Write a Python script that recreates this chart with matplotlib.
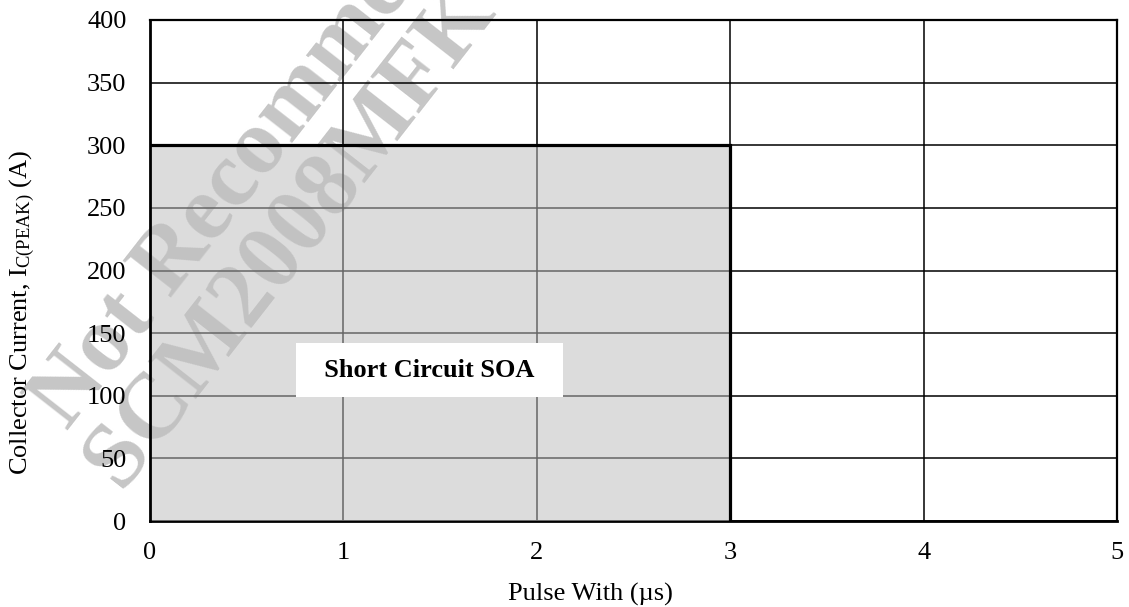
import matplotlib
matplotlib.use("Agg")
import matplotlib.pyplot as plt

# ---- data ----
soa_pulse_width = [0, 3, 3]          # µs
soa_current = [300, 300, 0]          # A
x_ticks = [0, 1, 2, 3, 4, 5]
y_ticks = [0, 50, 100, 150, 200, 250, 300, 350, 400]
region_label = "Short Circuit SOA"
label_pos = (1.443, 120.5)
watermarks = ["Not Recommended", "SCM2008MFK"]

plt.rcParams['font.family'] = ['Liberation Serif', 'DejaVu Serif']
plt.rcParams['mathtext.fontset'] = 'custom'
plt.rcParams['mathtext.rm'] = 'Liberation Serif'
plt.rcParams['mathtext.it'] = 'Liberation Serif:italic'
plt.rcParams['mathtext.bf'] = 'Liberation Serif:bold'

W, H = 1129, 607
fig = plt.figure(figsize=(W / 100, H / 100), dpi=100)
ax = fig.add_axes([150 / W, 1 - 521 / H, (1117 - 150) / W, (521 - 20) / H])

ax.set_xlim(x_ticks[0], x_ticks[-1])
ax.set_ylim(y_ticks[0], y_ticks[-1])
ax.set_xticks(x_ticks)
ax.set_yticks(y_ticks)
ax.tick_params(axis='both', length=0, labelsize=19, colors='black')
ax.tick_params(axis='y', pad=17)
ax.tick_params(axis='x', pad=15)

ax.set_axisbelow('line')
ax.grid(True, color='black', linewidth=1.1)

# watermark (behind grid)
wm_pos = [(282, 119), (291, 236)]
for txt, (px, py) in zip(watermarks, wm_pos):
    ax.text(px / W, 1 - py / H, txt, transform=fig.transFigure,
            fontsize=67, fontweight='bold', color='#c6c6c6',
            rotation=52, rotation_mode='anchor', ha='center', va='center',
            zorder=0.6, clip_on=False)

# shaded SOA region
ax.fill_between(soa_pulse_width, soa_current, 0, color=(0.75, 0.75, 0.75),
                alpha=0.533, linewidth=0, zorder=2.6)
ax.plot(soa_pulse_width, soa_current, color='black', linewidth=2.3,
        solid_joinstyle='miter', zorder=3)

for s in ax.spines.values():
    s.set_color('black')
    s.set_linewidth(1.6)
ax.spines['left'].set_linewidth(2.0)
ax.spines['bottom'].set_linewidth(2.0)
ax.spines['left'].set_zorder(3)

ax.text(label_pos[0], label_pos[1], "  " + region_label + "  ", fontsize=19,
        fontweight='bold', ha='center', va='center', zorder=4,
        bbox=dict(boxstyle='square,pad=0.6', facecolor='white', edgecolor='none'))

ax.set_xlabel("Pulse With (µs)", fontsize=19)
ax.xaxis.set_label_coords((590 - 150) / 967, (521 - 583) / 501)
ax.set_ylabel(r"Collector Current, I$_{\mathrm{C(PEAK)}}$ (A)", fontsize=19)
ax.yaxis.set_label_coords((37 - 150) / 967, (521 - 313) / 501)

fig.savefig("out.png", dpi=100)
